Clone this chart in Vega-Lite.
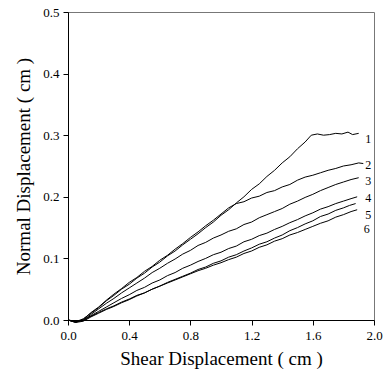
{
  "$schema": "https://vega.github.io/schema/vega-lite/v6.json",
  "width": 306,
  "height": 308,
  "autosize": {"type": "none"},
  "padding": {"left": 68, "top": 12, "right": 11, "bottom": 54},
  "background": "white",
  "config": {
    "font": "Liberation Serif",
    "view": {"stroke": "#777777", "strokeWidth": 1},
    "axis": {
      "grid": false,
      "domainColor": "black",
      "tickColor": "black",
      "labelColor": "black",
      "titleColor": "black",
      "labelFont": "Liberation Serif",
      "titleFont": "Liberation Serif",
      "labelFontSize": 13,
      "titleFontSize": 19,
      "titleFontWeight": "normal",
      "tickSize": 5,
      "labelFlush": false,
      "labelOverlap": false
    }
  },
  "datasets": {
    "curves": [
      {"c":1,"x":0.00,"y":0.000},{"c":1,"x":0.05,"y":-0.003},{"c":1,"x":0.10,"y":0.002},{"c":1,"x":0.15,"y":0.011},{"c":1,"x":0.20,"y":0.020},{"c":1,"x":0.25,"y":0.031},{"c":1,"x":0.30,"y":0.040},{"c":1,"x":0.35,"y":0.050},{"c":1,"x":0.40,"y":0.058},{"c":1,"x":0.45,"y":0.068},{"c":1,"x":0.50,"y":0.076},{"c":1,"x":0.55,"y":0.086},{"c":1,"x":0.60,"y":0.094},{"c":1,"x":0.65,"y":0.104},{"c":1,"x":0.70,"y":0.112},{"c":1,"x":0.75,"y":0.122},{"c":1,"x":0.80,"y":0.131},{"c":1,"x":0.85,"y":0.140},{"c":1,"x":0.90,"y":0.150},{"c":1,"x":0.95,"y":0.159},{"c":1,"x":1.00,"y":0.170},{"c":1,"x":1.05,"y":0.179},{"c":1,"x":1.10,"y":0.190},{"c":1,"x":1.15,"y":0.200},{"c":1,"x":1.20,"y":0.212},{"c":1,"x":1.25,"y":0.221},{"c":1,"x":1.30,"y":0.233},{"c":1,"x":1.35,"y":0.243},{"c":1,"x":1.40,"y":0.255},{"c":1,"x":1.45,"y":0.265},{"c":1,"x":1.50,"y":0.278},{"c":1,"x":1.55,"y":0.289},{"c":1,"x":1.59,"y":0.300},{"c":1,"x":1.63,"y":0.302},{"c":1,"x":1.67,"y":0.300},{"c":1,"x":1.71,"y":0.301},{"c":1,"x":1.75,"y":0.303},{"c":1,"x":1.79,"y":0.302},{"c":1,"x":1.83,"y":0.305},{"c":1,"x":1.86,"y":0.301},{"c":1,"x":1.90,"y":0.303},
      {"c":2,"x":0.00,"y":0.000},{"c":2,"x":0.05,"y":-0.004},{"c":2,"x":0.10,"y":0.001},{"c":2,"x":0.15,"y":0.012},{"c":2,"x":0.20,"y":0.021},{"c":2,"x":0.25,"y":0.032},{"c":2,"x":0.30,"y":0.042},{"c":2,"x":0.35,"y":0.051},{"c":2,"x":0.40,"y":0.061},{"c":2,"x":0.45,"y":0.069},{"c":2,"x":0.50,"y":0.079},{"c":2,"x":0.55,"y":0.087},{"c":2,"x":0.60,"y":0.097},{"c":2,"x":0.65,"y":0.105},{"c":2,"x":0.70,"y":0.115},{"c":2,"x":0.75,"y":0.124},{"c":2,"x":0.80,"y":0.134},{"c":2,"x":0.85,"y":0.143},{"c":2,"x":0.90,"y":0.153},{"c":2,"x":0.95,"y":0.162},{"c":2,"x":1.00,"y":0.172},{"c":2,"x":1.05,"y":0.182},{"c":2,"x":1.10,"y":0.189},{"c":2,"x":1.15,"y":0.192},{"c":2,"x":1.20,"y":0.198},{"c":2,"x":1.25,"y":0.201},{"c":2,"x":1.30,"y":0.207},{"c":2,"x":1.35,"y":0.210},{"c":2,"x":1.40,"y":0.216},{"c":2,"x":1.45,"y":0.220},{"c":2,"x":1.50,"y":0.227},{"c":2,"x":1.55,"y":0.232},{"c":2,"x":1.60,"y":0.235},{"c":2,"x":1.65,"y":0.239},{"c":2,"x":1.70,"y":0.243},{"c":2,"x":1.75,"y":0.246},{"c":2,"x":1.80,"y":0.250},{"c":2,"x":1.85,"y":0.252},{"c":2,"x":1.90,"y":0.255},{"c":2,"x":1.93,"y":0.254},
      {"c":3,"x":0.00,"y":0.000},{"c":3,"x":0.05,"y":-0.003},{"c":3,"x":0.10,"y":0.000},{"c":3,"x":0.15,"y":0.009},{"c":3,"x":0.20,"y":0.018},{"c":3,"x":0.25,"y":0.027},{"c":3,"x":0.30,"y":0.035},{"c":3,"x":0.35,"y":0.044},{"c":3,"x":0.40,"y":0.052},{"c":3,"x":0.45,"y":0.060},{"c":3,"x":0.50,"y":0.068},{"c":3,"x":0.55,"y":0.077},{"c":3,"x":0.60,"y":0.084},{"c":3,"x":0.65,"y":0.092},{"c":3,"x":0.70,"y":0.099},{"c":3,"x":0.75,"y":0.107},{"c":3,"x":0.80,"y":0.113},{"c":3,"x":0.85,"y":0.121},{"c":3,"x":0.90,"y":0.126},{"c":3,"x":0.95,"y":0.133},{"c":3,"x":1.00,"y":0.138},{"c":3,"x":1.05,"y":0.144},{"c":3,"x":1.10,"y":0.148},{"c":3,"x":1.15,"y":0.155},{"c":3,"x":1.20,"y":0.159},{"c":3,"x":1.25,"y":0.166},{"c":3,"x":1.30,"y":0.171},{"c":3,"x":1.35,"y":0.176},{"c":3,"x":1.40,"y":0.181},{"c":3,"x":1.45,"y":0.188},{"c":3,"x":1.50,"y":0.193},{"c":3,"x":1.55,"y":0.199},{"c":3,"x":1.60,"y":0.204},{"c":3,"x":1.65,"y":0.210},{"c":3,"x":1.70,"y":0.215},{"c":3,"x":1.75,"y":0.220},{"c":3,"x":1.80,"y":0.224},{"c":3,"x":1.85,"y":0.228},{"c":3,"x":1.90,"y":0.231},
      {"c":4,"x":0.00,"y":0.000},{"c":4,"x":0.05,"y":-0.002},{"c":4,"x":0.10,"y":0.000},{"c":4,"x":0.15,"y":0.007},{"c":4,"x":0.20,"y":0.014},{"c":4,"x":0.25,"y":0.021},{"c":4,"x":0.30,"y":0.028},{"c":4,"x":0.35,"y":0.035},{"c":4,"x":0.40,"y":0.041},{"c":4,"x":0.45,"y":0.048},{"c":4,"x":0.50,"y":0.053},{"c":4,"x":0.55,"y":0.060},{"c":4,"x":0.60,"y":0.065},{"c":4,"x":0.65,"y":0.072},{"c":4,"x":0.70,"y":0.077},{"c":4,"x":0.75,"y":0.084},{"c":4,"x":0.80,"y":0.089},{"c":4,"x":0.85,"y":0.095},{"c":4,"x":0.90,"y":0.100},{"c":4,"x":0.95,"y":0.106},{"c":4,"x":1.00,"y":0.110},{"c":4,"x":1.05,"y":0.116},{"c":4,"x":1.10,"y":0.120},{"c":4,"x":1.15,"y":0.127},{"c":4,"x":1.20,"y":0.131},{"c":4,"x":1.25,"y":0.137},{"c":4,"x":1.30,"y":0.141},{"c":4,"x":1.35,"y":0.147},{"c":4,"x":1.40,"y":0.152},{"c":4,"x":1.45,"y":0.158},{"c":4,"x":1.50,"y":0.163},{"c":4,"x":1.55,"y":0.169},{"c":4,"x":1.60,"y":0.174},{"c":4,"x":1.65,"y":0.180},{"c":4,"x":1.70,"y":0.184},{"c":4,"x":1.75,"y":0.189},{"c":4,"x":1.80,"y":0.193},{"c":4,"x":1.85,"y":0.197},{"c":4,"x":1.89,"y":0.200},
      {"c":5,"x":0.00,"y":0.000},{"c":5,"x":0.05,"y":-0.003},{"c":5,"x":0.10,"y":-0.001},{"c":5,"x":0.15,"y":0.006},{"c":5,"x":0.20,"y":0.012},{"c":5,"x":0.25,"y":0.018},{"c":5,"x":0.30,"y":0.023},{"c":5,"x":0.35,"y":0.029},{"c":5,"x":0.40,"y":0.034},{"c":5,"x":0.45,"y":0.040},{"c":5,"x":0.50,"y":0.044},{"c":5,"x":0.55,"y":0.050},{"c":5,"x":0.60,"y":0.055},{"c":5,"x":0.65,"y":0.061},{"c":5,"x":0.70,"y":0.066},{"c":5,"x":0.75,"y":0.071},{"c":5,"x":0.80,"y":0.076},{"c":5,"x":0.85,"y":0.082},{"c":5,"x":0.90,"y":0.086},{"c":5,"x":0.95,"y":0.092},{"c":5,"x":1.00,"y":0.096},{"c":5,"x":1.05,"y":0.102},{"c":5,"x":1.10,"y":0.106},{"c":5,"x":1.15,"y":0.112},{"c":5,"x":1.20,"y":0.117},{"c":5,"x":1.25,"y":0.123},{"c":5,"x":1.30,"y":0.127},{"c":5,"x":1.35,"y":0.133},{"c":5,"x":1.40,"y":0.138},{"c":5,"x":1.45,"y":0.145},{"c":5,"x":1.50,"y":0.150},{"c":5,"x":1.55,"y":0.156},{"c":5,"x":1.60,"y":0.161},{"c":5,"x":1.65,"y":0.168},{"c":5,"x":1.70,"y":0.172},{"c":5,"x":1.75,"y":0.178},{"c":5,"x":1.80,"y":0.182},{"c":5,"x":1.84,"y":0.186},{"c":5,"x":1.88,"y":0.189},
      {"c":6,"x":0.00,"y":0.000},{"c":6,"x":0.05,"y":-0.004},{"c":6,"x":0.10,"y":-0.002},{"c":6,"x":0.15,"y":0.005},{"c":6,"x":0.20,"y":0.011},{"c":6,"x":0.25,"y":0.017},{"c":6,"x":0.30,"y":0.022},{"c":6,"x":0.35,"y":0.028},{"c":6,"x":0.40,"y":0.033},{"c":6,"x":0.45,"y":0.039},{"c":6,"x":0.50,"y":0.044},{"c":6,"x":0.55,"y":0.050},{"c":6,"x":0.60,"y":0.055},{"c":6,"x":0.65,"y":0.060},{"c":6,"x":0.70,"y":0.065},{"c":6,"x":0.75,"y":0.070},{"c":6,"x":0.80,"y":0.075},{"c":6,"x":0.85,"y":0.080},{"c":6,"x":0.90,"y":0.084},{"c":6,"x":0.95,"y":0.089},{"c":6,"x":1.00,"y":0.093},{"c":6,"x":1.05,"y":0.098},{"c":6,"x":1.10,"y":0.102},{"c":6,"x":1.15,"y":0.108},{"c":6,"x":1.20,"y":0.112},{"c":6,"x":1.25,"y":0.118},{"c":6,"x":1.30,"y":0.122},{"c":6,"x":1.35,"y":0.128},{"c":6,"x":1.40,"y":0.132},{"c":6,"x":1.45,"y":0.138},{"c":6,"x":1.50,"y":0.142},{"c":6,"x":1.55,"y":0.147},{"c":6,"x":1.60,"y":0.152},{"c":6,"x":1.65,"y":0.157},{"c":6,"x":1.70,"y":0.161},{"c":6,"x":1.75,"y":0.167},{"c":6,"x":1.80,"y":0.171},{"c":6,"x":1.85,"y":0.176},{"c":6,"x":1.89,"y":0.179}
    ],
    "labels": [
      {"label":"1","x":1.963,"y":0.2945},
      {"label":"2","x":1.963,"y":0.2511},
      {"label":"3","x":1.963,"y":0.2263},
      {"label":"4","x":1.963,"y":0.1987},
      {"label":"5","x":1.963,"y":0.1705},
      {"label":"6","x":1.952,"y":0.1485}
    ]
  },
  "layer": [
    {
      "data": {"name": "curves"},
      "mark": {"type": "line", "color": "black", "strokeWidth": 1},
      "encoding": {
        "x": {
          "field": "x", "type": "quantitative",
          "scale": {"domain": [0, 2], "nice": false, "zero": false},
          "axis": {
            "title": "Shear Displacement ( cm  )",
            "values": [0, 0.2, 0.4, 0.6, 0.8, 1.0, 1.2, 1.4, 1.6, 1.8, 2.0],
            "labelExpr": "round(datum.value*10) % 4 == 0 ? format(datum.value, '.1f') : ''",
            "labelPadding": 4,
            "titlePadding": 7
          }
        },
        "y": {
          "field": "y", "type": "quantitative",
          "scale": {"domain": [0, 0.5], "nice": false, "zero": false},
          "axis": {
            "title": "Normal Displacement (  cm  )",
            "values": [0, 0.05, 0.1, 0.15, 0.2, 0.25, 0.3, 0.35, 0.4, 0.45, 0.5],
            "labelExpr": "round(datum.value*100) % 10 == 0 ? format(datum.value, '.1f') : ''",
            "labelPadding": 4,
            "titlePadding": 9
          }
        },
        "detail": {"field": "c", "type": "nominal"},
        "order": {"field": "x", "type": "quantitative"}
      }
    },
    {
      "data": {"name": "labels"},
      "mark": {"type": "text", "font": "Liberation Serif", "fontSize": 12, "color": "black", "align": "center", "baseline": "middle"},
      "encoding": {
        "x": {"field": "x", "type": "quantitative"},
        "y": {"field": "y", "type": "quantitative"},
        "text": {"field": "label", "type": "nominal"}
      }
    }
  ]
}
